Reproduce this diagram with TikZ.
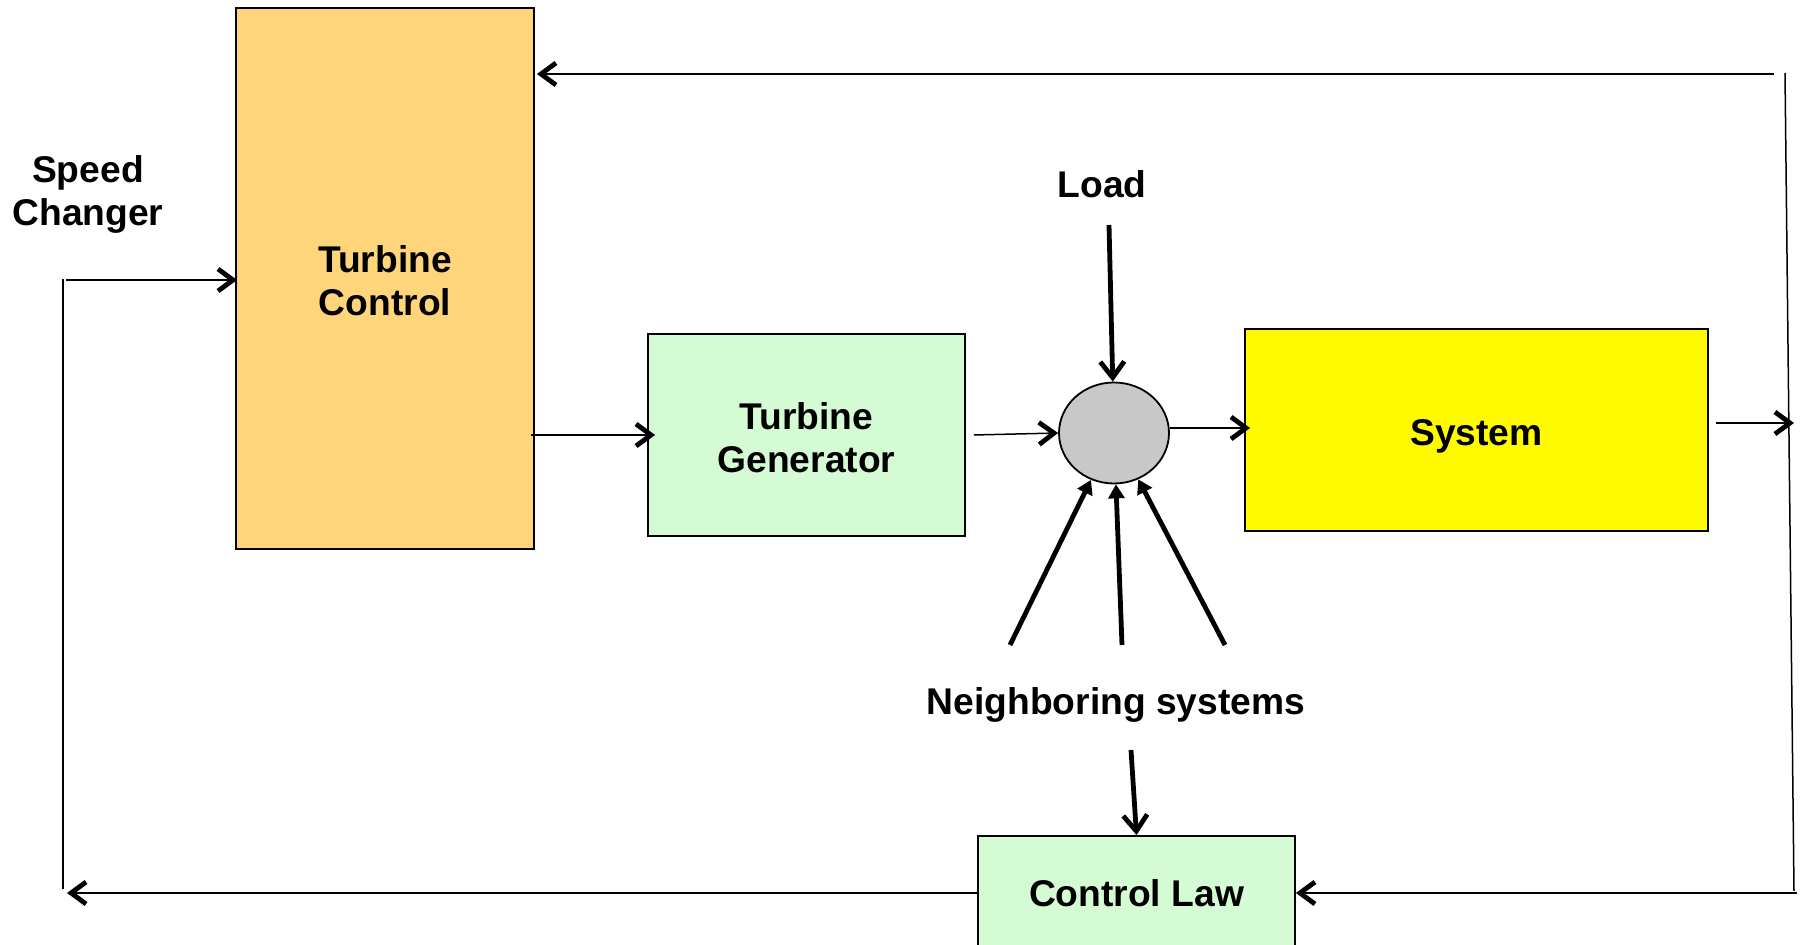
\documentclass[tikz,border=0pt]{standalone}
\usepackage{fontspec}
\setmainfont{Liberation Sans}
\usetikzlibrary{arrows.meta,shapes.geometric}

\definecolor{tcfill}{HTML}{FFD57C}
\definecolor{tgfill}{HTML}{D4FBD4}
\definecolor{sysfill}{HTML}{FFFA00}
\definecolor{sumfill}{HTML}{C8C8C8}
\newcommand\labelfont{\fontsize{18.6pt}{21.5pt}\selectfont\bfseries}

\begin{document}
\begin{tikzpicture}[x=0.5pt,y=-0.5pt,
  block/.style={draw=black, line width=0.9pt, inner sep=0pt},
  lbl/.style={align=center, font=\labelfont, inner sep=0pt},
  wire/.style={line width=0.75pt},
  flow/.style={line width=0.75pt, -{Straight Barb[length=7.5pt,width=11pt,line width=2.4pt]}},
  heavy/.style={line width=2.4pt, -{Straight Barb[length=8pt,width=12pt]}},
  push/.style={line width=2.4pt, -{Triangle[length=7pt,width=8pt]}}]

\useasboundingbox (0,0) rectangle (1806,945);
\clip (0,0) rectangle (1806,945);

% blocks
\node[block, fill=tcfill, minimum width=149pt, minimum height=270.5pt] (tc) at (385,278.5) {};
\node[block, fill=tgfill, minimum width=158.5pt, minimum height=101pt] (tg) at (806.5,435) {};
\node[draw, ellipse, fill=sumfill, line width=0.9pt, minimum width=55pt, minimum height=50.5pt, inner sep=0pt] (sum) at (1114,433) {};
\node[block, fill=sysfill, minimum width=231.5pt, minimum height=101pt] (sys) at (1476.5,430) {};
\node[block, fill=tgfill, minimum width=158.5pt, minimum height=57pt] (cl) at (1136.5,893) {};

% block captions
\node[lbl] (tctext) at (385,281) {Turbine\\Control};
\node[lbl] (tgtext) at (806.5,437.5) {Turbine\\Generator};
\node[lbl] (systext) at (1476.5,436) {System};
\node[lbl] (cltext) at (1136.5,893) {Control Law};

% free labels
\node[lbl] (sc) at (88,194.5) {Speed\\Changer};
\node[lbl] (load) at (1102,184) {Load};
\node[lbl] (nb) at (1116,705) {Neighboring systems};

% loop corners and free ends
\coordinate (lt) at (63,279);
\coordinate (lb) at (63,889);
\coordinate (lbe) at (67,893);
\coordinate (scin) at (66,280);
\coordinate (rt) at (1785,73);
\coordinate (rb) at (1794,891);
\coordinate (rbe) at (1797,893);
\coordinate (fbtop) at (1774,74);
\coordinate (ldsrc) at (1109,225);
\coordinate (n1) at (1010,645);
\coordinate (n2) at (1122,645);
\coordinate (n3) at (1225,645);
\coordinate (nbout) at (1131,750);

% forward path
\draw[flow] (scin) -- ([xshift=1pt]scin -| tc.west);
\draw[flow] ([xshift=-2pt]tc.east |- tg.west) -- ([xshift=4pt]tg.west);
\draw[flow] ([xshift=4pt]tg.east) -- (sum.west);
\draw[flow] ([yshift=2.5pt]sum.east) -- ([xshift=3pt,yshift=2.5pt]sys.west |- sum.east);
\draw[flow] ([xshift=3.5pt,yshift=3.5pt]sys.east) -- ([yshift=3.5pt]sys.east -| rb);

% feedback loops
\draw[wire] (rt) -- (rb);
\draw[flow] (fbtop) -- ([xshift=1pt]tc.east |- fbtop);
\draw[flow] (rbe) -- (cl.east);
\draw[flow] (cl.west) -- (lbe);
\draw[wire] (lt) -- (lb);

% disturbances
\draw[heavy] (ldsrc) -- (sum);
\draw[push] (n1) -- (sum);
\draw[push] (n2) -- (sum);
\draw[push] (n3) -- (sum);
\draw[heavy] (nbout) -- (cl.north);
\end{tikzpicture}
\end{document}
